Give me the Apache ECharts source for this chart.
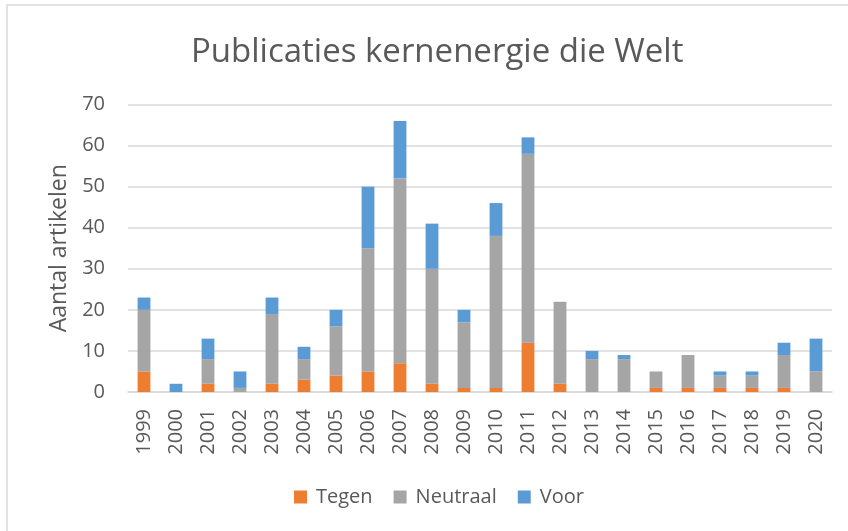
<!DOCTYPE html>
<html>
<head>
<meta charset="utf-8">
<style>html,body{margin:0;padding:0;background:#fff}#c{width:848px;height:531px}</style>
<script src="https://cdn.jsdelivr.net/npm/echarts@6/dist/echarts.min.js"></script>
</head>
<body>
<div id="c"></div>
<script>
const years = ['1999','2000','2001','2002','2003','2004','2005','2006','2007','2008','2009','2010','2011','2012','2013','2014','2015','2016','2017','2018','2019','2020'];
const tegen    = [5,0,2,0,2,3,4,5,7,2,1,1,12,2,0,0,1,1,1,1,1,0];
const neutraal = [15,0,6,1,17,5,12,30,45,28,16,37,46,20,8,8,4,8,3,3,8,5];
const voor     = [3,2,5,4,4,3,4,15,14,11,3,8,4,0,2,1,0,0,1,1,3,8];
const yTicks = [0,10,20,30,40,50,60,70];

const FONT = 'Open Sans';
const TXT = '#595959';
const chart = echarts.init(document.getElementById('c'));
chart.setOption({
  animation:false,
  textStyle:{fontFamily:FONT},
  title:{text:'Publicaties kernenergie die Welt',left:186,top:31,textStyle:{fontFamily:FONT,fontSize:33,fontWeight:'normal',color:TXT}},
  graphic:[{type:'rect',shape:{x:7,y:5,width:900,height:600},style:{fill:'none',stroke:'#d9d9d9',lineWidth:1.5},silent:true}],
  legend:{left:294,top:487,padding:0,itemWidth:13,itemHeight:13,itemGap:21,icon:'rect',
    textStyle:{fontFamily:FONT,fontSize:20,color:TXT,padding:[0,0,0,4]},
    data:['Tegen','Neutraal','Voor']},
  grid:{left:128,right:16,top:104.5,bottom:139,containLabel:false},
  xAxis:{type:'category',data:years,
    axisLine:{lineStyle:{color:'#d9d9d9',width:1.5}},axisTick:{show:false},
    axisLabel:{rotate:90,margin:17,fontFamily:FONT,fontSize:20,color:TXT,interval:0}},
  yAxis:{type:'value',min:yTicks[0],max:yTicks[yTicks.length-1],interval:10,
    name:'Aantal artikelen',nameLocation:'middle',nameGap:56,
    nameTextStyle:{fontFamily:FONT,fontSize:23,color:TXT},
    axisLine:{show:false},axisTick:{show:false},
    axisLabel:{margin:23,fontFamily:FONT,fontSize:20,color:TXT},
    splitLine:{lineStyle:{color:'#d9d9d9',width:1.5}}},
  series:[
    {name:'Tegen',type:'bar',stack:'a',data:tegen,barWidth:'40%',itemStyle:{color:'#ED7D31'}},
    {name:'Neutraal',type:'bar',stack:'a',data:neutraal,barWidth:'40%',itemStyle:{color:'#A5A5A5'}},
    {name:'Voor',type:'bar',stack:'a',data:voor,barWidth:'40%',itemStyle:{color:'#5B9BD5'}}
  ]
});
</script>
</body>
</html>
